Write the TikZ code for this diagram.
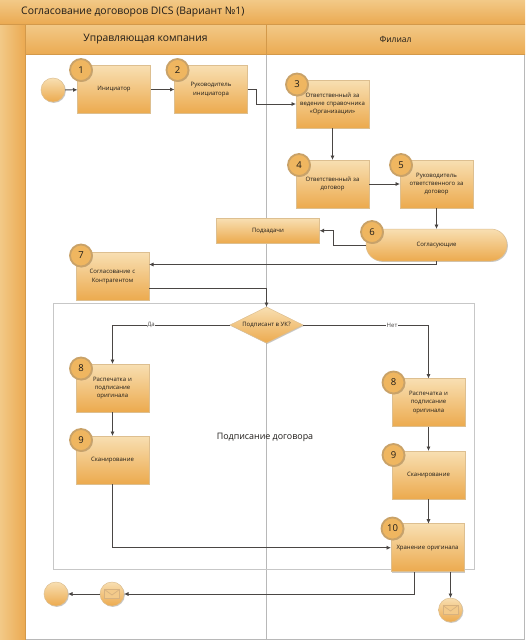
\documentclass[tikz,border=0pt]{standalone}
\usepackage{fontspec}
\setmainfont{Open Sans}
\usetikzlibrary{shapes.geometric,shadows,arrows.meta,calc}
\definecolor{ink}{HTML}{1E1B18}
\definecolor{wire}{HTML}{4A4644}
\definecolor{edgetan}{HTML}{DDBF90}
\definecolor{lite}{HTML}{F8DFB2}
\definecolor{deep}{HTML}{ECAA4E}
\definecolor{bandtop}{HTML}{F2C987}
\definecolor{banddeep}{HTML}{EBAA52}
\definecolor{ringtan}{HTML}{C9A268}
\definecolor{badgefill}{HTML}{EFB660}
\tikzset{
  softshadow/.style={drop shadow={shadow xshift=.9pt,shadow yshift=-.9pt,opacity=.35,fill=black!60}},
  taskbox/.style={rectangle,draw=edgetan,line width=.5pt,top color=lite,bottom color=deep,softshadow,
    minimum width=73pt,minimum height=48pt,outer sep=0pt,inner sep=1pt,align=center,text width=68pt,
    text=ink,font=\fontsize{6}{8.3}\selectfont},
  pillbox/.style={taskbox,rounded corners=16pt,minimum width=141pt,minimum height=32pt,text width=100pt},
  flatbox/.style={taskbox,minimum width=103pt,minimum height=24.5pt,text width=90pt},
  gate/.style={diamond,aspect=2,draw=edgetan,line width=.5pt,top color=lite,bottom color=deep,softshadow,
    minimum width=73pt,minimum height=36pt,inner sep=0pt,outer sep=0pt,text=ink},
  gatetext/.style={text=ink,font=\fontsize{6}{8}\selectfont,inner sep=0pt},
  eventdot/.style={circle,draw=edgetan,line width=.5pt,top color=lite,bottom color=deep,softshadow,
    minimum size=24pt,inner sep=0pt,outer sep=0pt},
  badge/.style={circle,draw=ringtan,line width=1.8pt,fill=badgefill,softshadow,
    minimum size=22pt,inner sep=0pt,text=ink,font=\fontsize{9.5}{10}\selectfont},
  flow/.style={draw=wire,line width=.8pt,-{Latex[length=4.5pt,width=4.2pt]}},
  flowlabel/.style={fill=white,inner sep=.5pt,text=wire,font=\fontsize{6}{7}\selectfont},
  envelope/.style={draw=edgetan!80!brown,line width=.7pt,fill=lite!60!deep},
  band/.style={text=ink,inner sep=0pt},
}
\newcommand{\mailicon}[1]{%
  \draw[envelope] ($(#1)+(-7.5,-4.5)$) rectangle ($(#1)+(7.5,4.5)$);
  \draw[envelope,fill=none] ($(#1)+(-7.5,-4.5)$) -- ($(#1)+(0,1)$) -- ($(#1)+(7.5,-4.5)$);
}
\begin{document}
\begin{tikzpicture}[x=1pt,y=-1pt]
\useasboundingbox (0,0) rectangle (525,640);
\fill[white] (0,0) rectangle (525,640);
% swimlane frame
\draw[black!28,line width=.7pt] (266.5,54) -- (266.5,640);
\draw[black!28,line width=.7pt] (.3,0) rectangle (524.7,639.6);
\shade[left color=bandtop,right color=banddeep] (0,24) rectangle (25,640);
\shade[top color=bandtop,bottom color=banddeep] (0,0) rectangle (525,24);
\shade[top color=bandtop,bottom color=banddeep] (25,24.5) rectangle (525,54.5);
\draw[black!10!banddeep,line width=.5pt] (0,24.2) -- (525,24.2) (25,54.5) -- (525,54.5) (25,24) -- (25,640) (266.5,24) -- (266.5,54.5);
\node[band,anchor=west,font=\fontsize{10.4}{12}\selectfont] (title) at (21,12) {Согласование договоров DICS (Вариант №1)};
\node[band,font=\fontsize{10.3}{12}\selectfont] (laneA) at (145.5,39.5) {Управляющая компания};
\node[band,font=\fontsize{8.5}{10}\selectfont] (laneB) at (395.5,39.5) {Филиал};
% container
\draw[draw=black!22,line width=.9pt] (53,303.5) rectangle (474.5,569.5);
\node[band,font=\fontsize{8.9}{11}\selectfont] (groupname) at (265,437) {Подписание договора};
% shapes
\node[eventdot] (start) at (53,90) {};
\node[taskbox] (t1) at (114,89.5) {Инициатор};
\node[taskbox] (t2) at (211,89.5) {Руководитель\\инициатора};
\node[taskbox] (t3) at (332.5,104) {Ответственный за\\ведение справочника\\«Организации»};
\node[taskbox] (t4) at (332.5,184) {Ответственный за\\договор};
\node[taskbox] (t5) at (436.5,184) {Руководитель\\ответственного за\\договор};
\node[flatbox] (sub) at (268,230.7) {Подзадачи};
\node[pillbox] (t6) at (436.5,245) {Согласующие};
\node[taskbox] (t7) at (112.5,276.5) {Согласование с\\Контрагентом};
\node[gate] (q) at (266.5,325) {};
\node[gatetext] (qt) at (q.center) {Подписант в УК?};
\node[taskbox] (t8l) at (112.5,388) {Распечатка и\\подписание\\оригинала};
\node[taskbox] (t9l) at (112.5,460) {Сканирование};
\node[taskbox] (t8r) at (428.5,402.5) {Распечатка и\\подписание\\оригинала};
\node[taskbox] (t9r) at (428.5,475) {Сканирование};
\node[taskbox] (t10) at (427.5,547.7) {Хранение оригинала};
\node[eventdot] (mailA) at (112,594) {};
\mailicon{mailA}
\node[eventdot] (finish) at (56,594) {};
\node[eventdot] (mailB) at (450.5,610) {};
\mailicon{mailB}
% helper points
\coordinate (b23a) at ($(t2.east)+(8.5,0)$);
\coordinate (b23b) at (b23a |- t3.west);
\coordinate (b6a) at (333,245);
\coordinate (b6b) at (333,230.7);
\coordinate (t7in) at (t7.east |- 0,264.5);
\coordinate (b6c) at (436.5,264.5);
\coordinate (t7out) at (t7.east |- 0,288);
\coordinate (b7a) at (266.5,288);
\coordinate (ql) at (112.5,325);
\coordinate (qr) at (428.5,325);
\coordinate (b9a) at (112.5,547.7);
\coordinate (t10o1) at (414.5,572);
\coordinate (b10a) at (414.5,594);
\coordinate (t10o2) at (450.5,572);
% connectors
\draw[flow] (start) -- (t1);
\draw[flow] (t1) -- (t2);
\draw[flow] (t2.east) -- (b23a) -- (b23b) -- (t3.west);
\draw[flow] (t3) -- (t4);
\draw[flow] (t4) -- (t5);
\draw[flow] (t5) -- (t6);
\draw[flow] (t6.west) -- (b6a) -- (b6b) -- (sub.east);
\draw[flow] (t6.south) -- (b6c) -- (t7in);
\draw[flow] (t7out) -- (b7a) -- (q.north);
\draw[flow] (q.west) -- (ql) -- (t8l.north);
\draw[flow] (q.east) -- (qr) -- (t8r.north);
\node[flowlabel] (yes) at (151,325) {Да};
\node[flowlabel] (no) at (392,325) {Нет};
\draw[flow] (t8l) -- (t9l);
\draw[flow] (t8r) -- (t9r);
\draw[flow] (t9r.south) -- (t9r.south |- t10.north);
\draw[flow] (t9l.south) -- (b9a) -- (t10.west);
\draw[flow] (t10o1) -- (b10a) -- (mailA.east);
\draw[flow] (mailA) -- (finish);
\draw[flow] (t10o2) -- (mailB.north);
% badges
\node[badge] (n1) at (81,70) {1};
\node[badge] (n2) at (177.5,70) {2};
\node[badge] (n3) at (297,84.5) {3};
\node[badge] (n4) at (299,165) {4};
\node[badge] (n5) at (401,165) {5};
\node[badge] (n6) at (372,232) {6};
\node[badge] (n7) at (81,255.5) {7};
\node[badge] (n8l) at (81,368.5) {8};
\node[badge] (n9l) at (81,440) {9};
\node[badge] (n8r) at (393.5,382.5) {8};
\node[badge] (n9r) at (393.5,455) {9};
\node[badge] (n10) at (392.5,528.5) {10};
\end{tikzpicture}
\end{document}
